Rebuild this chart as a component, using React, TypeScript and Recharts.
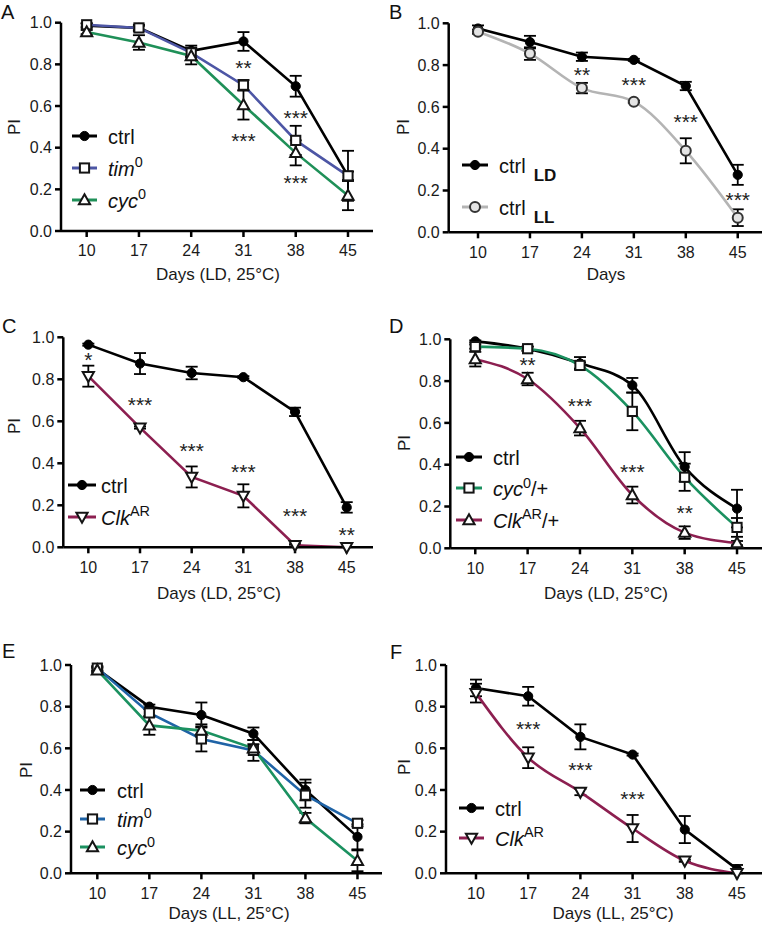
import React from 'react';
import { ComposedChart, Line, Scatter, XAxis, YAxis, ErrorBar, Legend, Label } from 'recharts';

const FONT = '"Liberation Sans", Arial, Helvetica, sans-serif';

const days = [10, 17, 24, 31, 38, 45];
const yTicks = [0, 0.2, 0.4, 0.6, 0.8, 1.0];

// Panel A (LD)
const aCtrl = [0.985, 0.975, 0.865, 0.91, 0.695, 0.265];
const aCtrlErr = [0.01, 0.015, 0.025, 0.045, 0.05, 0.12];
const aTim = [0.99, 0.975, 0.855, 0.7, 0.435, 0.265];
const aTimErr = [0.008, 0.01, 0.02, 0.025, 0.07, 0.02];
const aCyc = [0.955, 0.905, 0.84, 0.605, 0.375, 0.17];
const aCycErr = [0.01, 0.035, 0.04, 0.07, 0.06, 0.07];
const aStarDays = [31, 38, 31, 38];
const aStarY = [0.8, 0.56, 0.45, 0.25];
const aStarText = ['**', '***', '***', '***'];

// Panel B (LD vs LL)
const bLD = [0.975, 0.91, 0.84, 0.825, 0.7, 0.275];
const bLDErr = [0.015, 0.03, 0.02, 0.005, 0.02, 0.048];
const bLL = [0.96, 0.855, 0.69, 0.625, 0.39, 0.07];
const bLLErr = [0.01, 0.03, 0.025, 0.005, 0.06, 0.04];
const bStarDays = [24, 31, 38, 45];
const bStarY = [0.77, 0.725, 0.545, 0.175];
const bStarText = ['**', '***', '***', '***'];

// Panel C
const cCtrl = [0.965, 0.875, 0.83, 0.81, 0.645, 0.19];
const cCtrlErr = [0.005, 0.05, 0.03, 0.005, 0.02, 0.025];
const cClk = [0.815, 0.57, 0.335, 0.245, 0.01, 0.0];
const cClkErr = [0.05, 0.005, 0.05, 0.055, 0.005, 0.0];
const cStarDays = [10, 17, 24, 31, 38, 45];
const cStarY = [0.91, 0.695, 0.48, 0.38, 0.17, 0.08];
const cStarText = ['*', '***', '***', '***', '***', '**'];

// Panel D
const dCtrl = [0.99, 0.955, 0.885, 0.78, 0.39, 0.19];
const dCtrlErr = [0.005, 0.01, 0.03, 0.035, 0.07, 0.09];
const dCyc = [0.965, 0.955, 0.875, 0.655, 0.34, 0.1];
const dCycErr = [0.01, 0.01, 0.015, 0.09, 0.065, 0.045];
const dClk = [0.905, 0.81, 0.575, 0.255, 0.075, 0.025];
const dClkErr = [0.035, 0.03, 0.035, 0.04, 0.03, 0.01];
const dStarDays = [17, 24, 31, 38];
const dStarY = [0.895, 0.7, 0.385, 0.19];
const dStarText = ['**', '***', '***', '**'];

// Panel E (LL)
const eCtrl = [0.98, 0.8, 0.76, 0.67, 0.4, 0.175];
const eCtrlErr = [0.01, 0.01, 0.06, 0.03, 0.05, 0.06];
const eTim = [0.985, 0.77, 0.645, 0.59, 0.375, 0.24];
const eTimErr = [0.01, 0.02, 0.06, 0.05, 0.06, 0.015];
const eCyc = [0.975, 0.71, 0.685, 0.6, 0.265, 0.06];
const eCycErr = [0.01, 0.045, 0.03, 0.02, 0.025, 0.05];

// Panel F (LL)
const fCtrl = [0.89, 0.85, 0.655, 0.57, 0.21, 0.02];
const fCtrlErr = [0.04, 0.045, 0.06, 0.005, 0.065, 0.02];
const fClk = [0.865, 0.555, 0.39, 0.215, 0.06, 0.0];
const fClkErr = [0.045, 0.05, 0.015, 0.065, 0.005, 0.0];
const fStarDays = [17, 24, 31];
const fStarY = [0.71, 0.515, 0.375];
const fStarText = ['***', '***', '***'];

type MarkerKind = 'circle' | 'circleOpen' | 'square' | 'triUp' | 'triDown';

interface SeriesDef {
  key: string;
  values: number[];
  errors: number[];
  color: string;
  marker: MarkerKind;
  markerFill: string;
  markerStroke: string;
  curve: 'linear' | 'monotone';
  label: React.ReactNode;
}

interface PanelCfg {
  letter: string;
  letterX: number;
  letterY: number;
  ox: number;
  oy: number;
  w: number;
  h: number;
  plotLeft: number;
  plotRight: number;
  plotTop: number;
  plotBottom: number;
  xMin: number;
  xMax: number;
  xTitle: string;
  xTitleX: number;
  xTitleY: number;
  piX: number;
  piY: number;
  legendX: number;
  legendY: number;
  legendRowH: number;
  legendIconW: number;
  legendGap: number;
}

const Sup = ({ children }: { children: React.ReactNode }) => (
  <span style={{ fontSize: '0.72em', position: 'relative', top: '-0.6em', fontStyle: 'normal' }}>{children}</span>
);
const Sub = ({ children }: { children: React.ReactNode }) => (
  <span style={{ fontSize: 17, fontWeight: 700, position: 'relative', top: 8, marginLeft: 8 }}>{children}</span>
);

const BLACK = '#000000';
const TIM_A = '#4d56a5';
const CYC_A = '#1f9058';
const TIM_E = '#1f63a6';
const CYC_E = '#1b9160';
const CLK = '#8c1f50';
const LL_GRAY = '#b4b4b4';
const MK = '#141414';

function Marker({ cx, cy, kind, fill, stroke }: { cx: number; cy: number; kind: MarkerKind; fill: string; stroke: string }) {
  if (cx == null || cy == null || isNaN(cx) || isNaN(cy)) return null;
  switch (kind) {
    case 'circle':
      return <circle cx={cx} cy={cy} r={4.6} fill={fill} stroke={stroke} strokeWidth={1} />;
    case 'circleOpen':
      return <circle cx={cx} cy={cy} r={5} fill={fill} stroke={stroke} strokeWidth={2} />;
    case 'square':
      return <rect x={cx - 4.6} y={cy - 4.6} width={9.2} height={9.2} fill={fill} stroke={stroke} strokeWidth={2} />;
    case 'triUp':
      return <path d={`M${cx},${cy - 5.8}L${cx + 5.6},${cy + 4.2}L${cx - 5.6},${cy + 4.2}Z`} fill={fill} stroke={stroke} strokeWidth={2} strokeLinejoin="miter" />;
    case 'triDown':
      return <path d={`M${cx},${cy + 5.8}L${cx + 5.6},${cy - 4.2}L${cx - 5.6},${cy - 4.2}Z`} fill={fill} stroke={stroke} strokeWidth={2} strokeLinejoin="miter" />;
    default:
      return null;
  }
}

const ctrlLabel = <span>ctrl</span>;
const timLabel = (
  <span>
    <i>tim</i>
    <Sup>0</Sup>
  </span>
);
const cycLabel = (
  <span>
    <i>cyc</i>
    <Sup>0</Sup>
  </span>
);
const clkLabel = (
  <span>
    <i>Clk</i>
    <Sup>AR</Sup>
  </span>
);
const cycHetLabel = (
  <span>
    <i>cyc</i>
    <Sup>0</Sup>/+
  </span>
);
const clkHetLabel = (
  <span>
    <i>Clk</i>
    <Sup>AR</Sup>/+
  </span>
);

const ctrlSeries = (values: number[], errors: number[], curve: 'linear' | 'monotone' = 'linear'): SeriesDef => ({
  key: 'ctrl',
  values,
  errors,
  color: BLACK,
  marker: 'circle',
  markerFill: '#000',
  markerStroke: '#000',
  curve,
  label: ctrlLabel,
});

const panelA: { cfg: PanelCfg; series: SeriesDef[]; starDays: number[]; starY: number[]; starText: string[] } = {
  cfg: {
    letter: 'A', letterX: 1, letterY: 19,
    ox: 0, oy: 0, w: 382, h: 300,
    plotLeft: 61, plotRight: 373, plotTop: 22.7, plotBottom: 231,
    xMin: 6.56, xMax: 48.35,
    xTitle: 'Days (LD, 25°C)', xTitleX: 218, xTitleY: 280,
    piX: 20, piY: 127,
    legendX: 72, legendY: 136, legendRowH: 32, legendIconW: 25, legendGap: 11,
  },
  series: [
    ctrlSeries(aCtrl, aCtrlErr),
    { key: 'tim', values: aTim, errors: aTimErr, color: TIM_A, marker: 'square', markerFill: '#ffffff', markerStroke: MK, curve: 'linear', label: timLabel },
    { key: 'cyc', values: aCyc, errors: aCycErr, color: CYC_A, marker: 'triUp', markerFill: '#ffffff', markerStroke: MK, curve: 'linear', label: cycLabel },
  ],
  starDays: aStarDays, starY: aStarY, starText: aStarText,
};

const panelB = {
  cfg: {
    letter: 'B', letterX: 389, letterY: 19,
    ox: 382, oy: 0, w: 382, h: 300,
    plotLeft: 448.7, plotRight: 762, plotTop: 23.3, plotBottom: 232.3,
    xMin: 6.05, xMax: 48.27,
    xTitle: 'Days', xTitleX: 606, xTitleY: 280,
    piX: 409, piY: 127,
    legendX: 462, legendY: 165, legendRowH: 41.5, legendIconW: 26, legendGap: 11,
  } as PanelCfg,
  series: [
    { ...ctrlSeries(bLD, bLDErr), key: 'ld', label: <span>ctrl<Sub>LD</Sub></span> },
    { key: 'll', values: bLL, errors: bLLErr, color: LL_GRAY, marker: 'circleOpen' as MarkerKind, markerFill: '#e4e4e4', markerStroke: '#333333', curve: 'monotone' as const, label: <span>ctrl<Sub>LL</Sub></span> },
  ] as SeriesDef[],
  starDays: bStarDays, starY: bStarY, starText: bStarText,
};

const panelC = {
  cfg: {
    letter: 'C', letterX: 2, letterY: 333,
    ox: 0, oy: 300, w: 382, h: 310,
    plotLeft: 63.3, plotRight: 373, plotTop: 337.3, plotBottom: 547.3,
    xMin: 6.61, xMax: 48.56,
    xTitle: 'Days (LD, 25°C)', xTitleX: 219, xTitleY: 599,
    piX: 20, piY: 426,
    legendX: 68, legendY: 485, legendRowH: 32, legendIconW: 28, legendGap: 5,
  } as PanelCfg,
  series: [
    ctrlSeries(cCtrl, cCtrlErr),
    { key: 'clk', values: cClk, errors: cClkErr, color: CLK, marker: 'triDown', markerFill: '#ffffff', markerStroke: MK, curve: 'linear', label: clkLabel },
  ] as SeriesDef[],
  starDays: cStarDays, starY: cStarY, starText: cStarText,
};

const panelD = {
  cfg: {
    letter: 'D', letterX: 389, letterY: 333,
    ox: 382, oy: 300, w: 382, h: 310,
    plotLeft: 450.3, plotRight: 762, plotTop: 339.3, plotBottom: 548.3,
    xMin: 6.66, xMax: 48.34,
    xTitle: 'Days (LD, 25°C)', xTitleX: 606, xTitleY: 599,
    piX: 410, piY: 443,
    legendX: 456, legendY: 456.7, legendRowH: 31.7, legendIconW: 26, legendGap: 11,
  } as PanelCfg,
  series: [
    ctrlSeries(dCtrl, dCtrlErr, 'monotone'),
    { key: 'cyc', values: dCyc, errors: dCycErr, color: CYC_E, marker: 'square', markerFill: '#ffffff', markerStroke: MK, curve: 'monotone', label: cycHetLabel },
    { key: 'clk', values: dClk, errors: dClkErr, color: CLK, marker: 'triUp', markerFill: '#ffffff', markerStroke: MK, curve: 'monotone', label: clkHetLabel },
  ] as SeriesDef[],
  starDays: dStarDays, starY: dStarY, starText: dStarText,
};

const panelE = {
  cfg: {
    letter: 'E', letterX: 2, letterY: 658,
    ox: 0, oy: 610, w: 382, h: 316,
    plotLeft: 71, plotRight: 382, plotTop: 665, plotBottom: 873.3,
    xMin: 6.46, xMax: 48.3,
    xTitle: 'Days (LL, 25°C)', xTitleX: 229, xTitleY: 919,
    piX: 32, piY: 770,
    legendX: 80, legendY: 790, legendRowH: 28.7, legendIconW: 25, legendGap: 12,
  } as PanelCfg,
  series: [
    ctrlSeries(eCtrl, eCtrlErr),
    { key: 'tim', values: eTim, errors: eTimErr, color: TIM_E, marker: 'square', markerFill: '#ffffff', markerStroke: MK, curve: 'linear', label: timLabel },
    { key: 'cyc', values: eCyc, errors: eCycErr, color: CYC_E, marker: 'triUp', markerFill: '#ffffff', markerStroke: MK, curve: 'linear', label: cycLabel },
  ] as SeriesDef[],
  starDays: [] as number[], starY: [] as number[], starText: [] as string[],
};

const panelF = {
  cfg: {
    letter: 'F', letterX: 390, letterY: 659,
    ox: 382, oy: 610, w: 382, h: 316,
    plotLeft: 446, plotRight: 762, plotTop: 665, plotBottom: 873.3,
    xMin: 5.98, xMax: 48.35,
    xTitle: 'Days (LL, 25°C)', xTitleX: 613, xTitleY: 919,
    piX: 410, piY: 767,
    legendX: 459, legendY: 808, legendRowH: 30, legendIconW: 25, legendGap: 11,
  } as PanelCfg,
  series: [
    ctrlSeries(fCtrl, fCtrlErr),
    { key: 'clk', values: fClk, errors: fClkErr, color: CLK, marker: 'triDown', markerFill: '#ffffff', markerStroke: MK, curve: 'monotone', label: clkLabel },
  ] as SeriesDef[],
  starDays: fStarDays, starY: fStarY, starText: fStarText,
};

const panels = [panelA, panelB, panelC, panelD, panelE, panelF];

function LegendBox({ series, rowH, iconW, gap }: { series: SeriesDef[]; rowH: number; iconW: number; gap: number }) {
  return (
    <div style={{ fontFamily: FONT, fontSize: 20, color: '#111' }}>
      {series.map((s) => (
        <div key={s.key} style={{ display: 'flex', alignItems: 'center', height: rowH, whiteSpace: 'nowrap' }}>
          <svg width={iconW} height={14} style={{ overflow: 'visible', flex: 'none' }}>
            <line x1={0} y1={7} x2={iconW} y2={7} stroke={s.color} strokeWidth={3} />
            <Marker cx={iconW / 2} cy={7} kind={s.marker} fill={s.markerFill} stroke={s.markerStroke} />
          </svg>
          <span style={{ marginLeft: gap, lineHeight: 1, position: 'relative', top: 1 }}>{s.label}</span>
        </div>
      ))}
    </div>
  );
}

const YW = 40;
const XH = 30;

function Panel({ p }: { p: typeof panelA }) {
  const { cfg, series } = p;
  const margin = {
    top: cfg.plotTop - cfg.oy,
    left: cfg.plotLeft - cfg.ox - YW,
    right: cfg.ox + cfg.w - cfg.plotRight,
    bottom: cfg.oy + cfg.h - cfg.plotBottom - XH,
  };
  const data = days.map((d, i) => {
    const row: Record<string, number> = { day: d };
    series.forEach((s) => {
      row[s.key] = s.values[i];
      row[s.key + 'Err'] = s.errors[i];
    });
    return row;
  });
  const stars = p.starDays.map((d, i) => ({ day: d, y: p.starY[i], t: p.starText[i] }));
  const tickStyle = { fontSize: 16, fill: '#1a1a1a', fontFamily: FONT };
  const axisStroke = { stroke: '#000', strokeWidth: 2.5 };

  const xTitle = (
    <Label
      content={() => (
        <text x={cfg.xTitleX - cfg.ox} y={cfg.xTitleY - cfg.oy} textAnchor="middle" fontSize={17} fontFamily={FONT} fill="#1a1a1a">
          {cfg.xTitle}
        </text>
      )}
    />
  );
  const yTitle = (
    <Label
      content={() => {
        const x = cfg.piX - cfg.ox;
        const y = cfg.piY - cfg.oy;
        return (
          <text x={x} y={y} transform={`rotate(-90 ${x} ${y})`} textAnchor="middle" fontSize={17} fontFamily={FONT} fill="#1a1a1a">
            PI
          </text>
        );
      }}
    />
  );

  return (
    <div style={{ position: 'absolute', left: cfg.ox, top: cfg.oy, width: cfg.w, height: cfg.h }}>
      <ComposedChart width={cfg.w} height={cfg.h} data={data} margin={margin}>
        <XAxis
          dataKey="day"
          type="number"
          domain={[cfg.xMin, cfg.xMax]}
          ticks={days}
          interval={0}
          height={XH}
          tick={tickStyle}
          tickSize={6}
          tickMargin={8}
          axisLine={axisStroke}
          tickLine={axisStroke}
          label={xTitle}
        />
        <YAxis
          type="number"
          domain={[0, 1]}
          ticks={yTicks}
          interval={0}
          width={YW}
          tick={tickStyle}
          tickSize={6}
          tickMargin={3}
          tickFormatter={(v: number) => v.toFixed(1)}
          axisLine={axisStroke}
          tickLine={axisStroke}
          label={yTitle}
        />
        {series.map((s) => (
          <Line
            key={s.key}
            dataKey={s.key}
            type={s.curve}
            stroke={s.color}
            strokeWidth={2.6}
            isAnimationActive={false}
            activeDot={false}
            dot={(dp: any) => (
              <Marker key={`${s.key}-${dp.index}`} cx={dp.cx} cy={dp.cy} kind={s.marker} fill={s.markerFill} stroke={s.markerStroke} />
            )}
          >
            <ErrorBar dataKey={s.key + 'Err'} width={6} strokeWidth={1.8} stroke="#000" direction="y" isAnimationActive={false} />
          </Line>
        ))}
        {stars.length > 0 && (
          <Scatter
            data={stars}
            dataKey="y"
            isAnimationActive={false}
            legendType="none"
            shape={(sp: any) => (
              <text x={sp.cx} y={sp.cy + 11} textAnchor="middle" fontSize={21} fontFamily={FONT} fill="#222">
                {sp.payload.t}
              </text>
            )}
          />
        )}
        <Legend
          layout="horizontal"
          verticalAlign="middle"
          align="center"
          wrapperStyle={{
            left: cfg.legendX - cfg.ox,
            top: cfg.legendY - cfg.legendRowH / 2 - cfg.oy,
            width: 'auto',
            height: 'auto',
          }}
          content={() => <LegendBox series={series} rowH={cfg.legendRowH} iconW={cfg.legendIconW} gap={cfg.legendGap} />}
        />
      </ComposedChart>
    </div>
  );
}

export default function App() {
  return (
    <div style={{ position: 'absolute', left: 0, top: 0, width: 764, height: 926, background: '#fff', overflow: 'hidden' }}>
      {panels.map((p) => (
        <Panel key={p.cfg.letter} p={p as typeof panelA} />
      ))}
      <svg width={764} height={926} style={{ position: 'absolute', left: 0, top: 0, pointerEvents: 'none' }}>
        {panels.map((p) => (
          <text key={p.cfg.letter} x={p.cfg.letterX} y={p.cfg.letterY} fontSize={20} fontFamily={FONT} fill="#111">
            {p.cfg.letter}
          </text>
        ))}
      </svg>
    </div>
  );
}
